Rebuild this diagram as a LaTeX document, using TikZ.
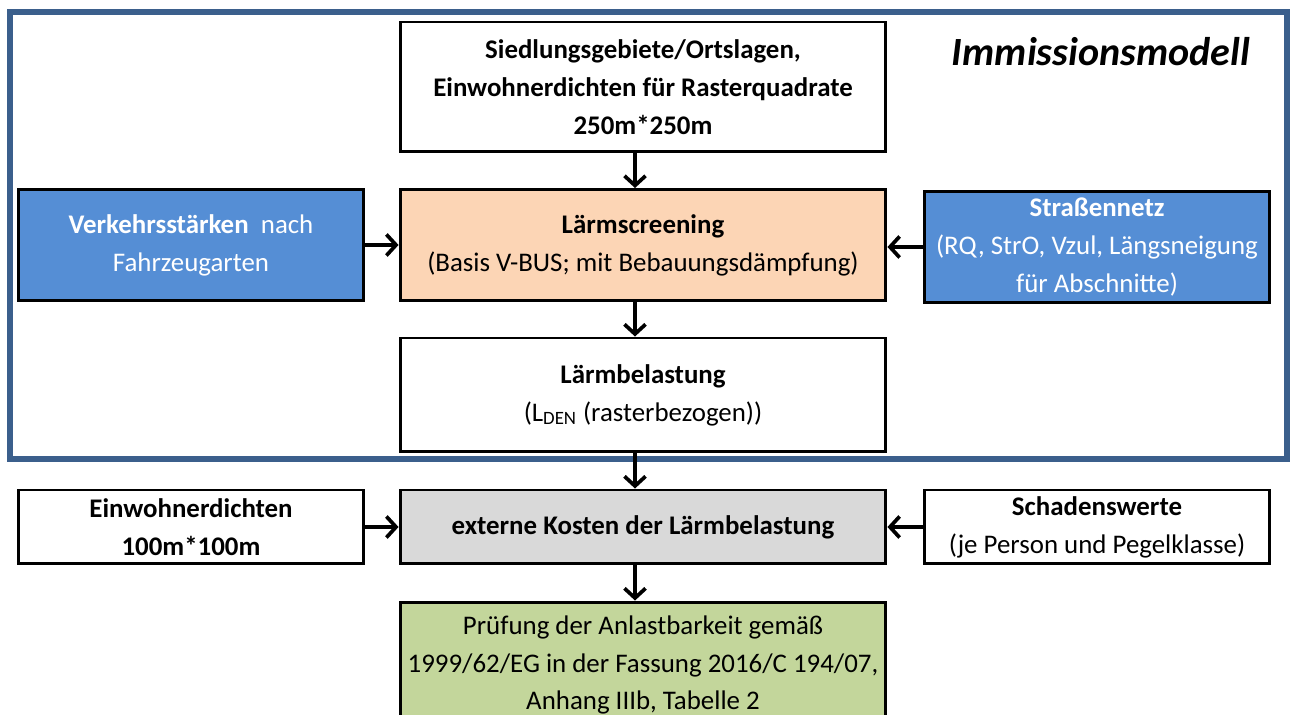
\documentclass[tikz,border=0pt]{standalone}
\usepackage{fontspec}
\setmainfont{Carlito}
\usetikzlibrary{arrows.meta}

\definecolor{framebl}{RGB}{59,95,140}
\definecolor{inblue}{RGB}{85,142,213}
\definecolor{screenor}{RGB}{252,213,181}
\definecolor{costgr}{RGB}{217,217,217}
\definecolor{checkgn}{RGB}{195,214,155}

\begin{document}
\begin{tikzpicture}[
  x=0.02cm, y=-0.02cm,
  font=\fontsize{15.3}{21.5}\selectfont,
  box/.style={draw, line width=1.7pt, align=center, inner sep=2pt},
  wide/.style={box, minimum width=9.72cm},
  side/.style={box, minimum width=6.9cm},
  input/.style={side, fill=inblue, text=white},
  flow/.style={line width=2.1pt, -{Straight Barb[length=5.5pt,width=12pt]}}
]
\useasboundingbox (0,0) rectangle (1292,715);
\fill[white] (0,0) rectangle (1292,715);
\clip (0,0) rectangle (1292,715);

% frame of the immission model
\draw[framebl, line width=3pt] (10,12) rectangle (1287,459);
\node[font=\fontsize{22.8}{27}\selectfont\bfseries\itshape] (title) at (1101,52) {Immissionsmodell};

% inside the frame
\node[wide, minimum height=2.6cm, font=\fontsize{15.3}{21.5}\selectfont\bfseries] (grid) at (643,87)
  {Siedlungsgebiete/Ortslagen,\\Einwohnerdichten für Rasterquadrate\\250m*250m};
\node[wide, minimum height=2.22cm, fill=screenor] (screen) at (643,245)
  {\textbf{Lärmscreening}\\(Basis V-BUS; mit Bebauungsdämpfung)};
\node[input, minimum height=2.22cm] (traffic) at (191,245)
  {\textbf{Verkehrsstärken}~ nach\\Fahrzeugarten};
\node[input, minimum height=2.22cm] (roads) at (1097,247)
  {\textbf{Straßennetz}\\(RQ, StrO, Vzul, Längsneigung\\für Abschnitte)};
\node[wide, minimum height=2.28cm] (noise) at (643,395)
  {\textbf{Lärmbelastung}\\(L\textsubscript{DEN} (rasterbezogen))};

% below the frame
\node[wide, minimum height=1.48cm, fill=costgr, font=\fontsize{15.3}{21.5}\selectfont\bfseries] (cost) at (643,527)
  {externe Kosten der Lärmbelastung};
\node[side, minimum height=1.48cm, font=\fontsize{15.3}{21.5}\selectfont\bfseries] (people) at (191,527)
  {Einwohnerdichten\\100m*100m};
\node[side, minimum height=1.48cm] (damage) at (1097,527)
  {\textbf{Schadenswerte}\\(je Person und Pegelklasse)};
\node[wide, minimum height=2.52cm, fill=checkgn] (check) at (643,665)
  {Prüfung der Anlastbarkeit gemäß\\1999/62/EG in der Fassung 2016/C 194/07,\\Anhang IIIb, Tabelle 2};

% connectors
\draw[flow] ([xshift=-0.16cm]grid.south) -- ([xshift=-0.16cm]screen.north);
\draw[flow] ([xshift=-0.16cm]screen.south) -- ([xshift=-0.16cm]noise.north);
\draw[flow] ([xshift=-0.16cm]noise.south) -- ([xshift=-0.16cm]cost.north);
\draw[flow] ([xshift=-0.16cm]cost.south) -- ([xshift=-0.16cm]check.north);
\draw[flow] (traffic) -- (screen);
\draw[flow] (roads.west) -- (roads.west -| screen.east);
\draw[flow] (people) -- (cost);
\draw[flow] (damage) -- (cost);
\end{tikzpicture}
\end{document}
